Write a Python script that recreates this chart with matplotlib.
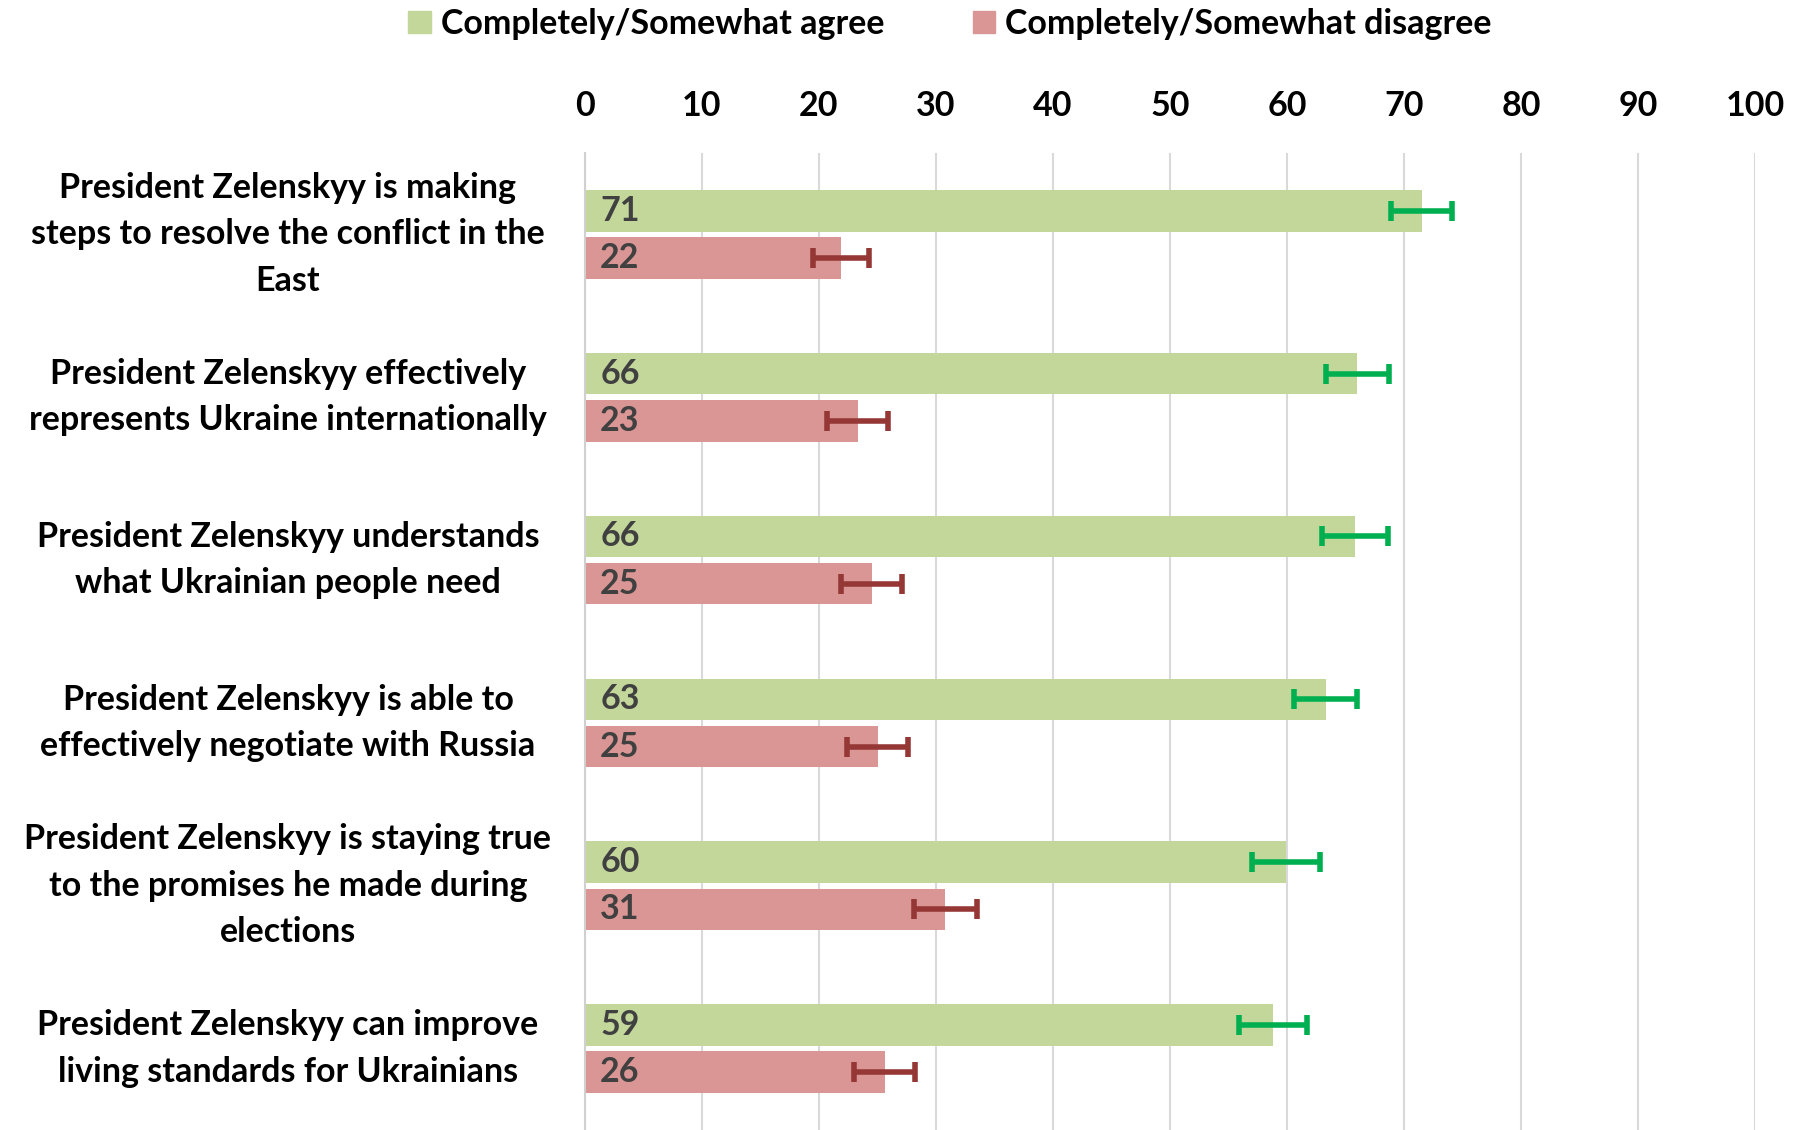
import matplotlib
matplotlib.use("Agg")
import matplotlib.pyplot as plt
import matplotlib.transforms as mtransforms
from matplotlib.patches import Patch
import numpy as np

categories = [
    "President Zelenskyy is making\nsteps to resolve the conflict in the\nEast",
    "President Zelenskyy effectively\nrepresents Ukraine internationally",
    "President Zelenskyy understands\nwhat Ukrainian people need",
    "President Zelenskyy is able to\neffectively negotiate with Russia",
    "President Zelenskyy is staying true\nto the promises he made during\nelections",
    "President Zelenskyy can improve\nliving standards for Ukrainians",
]
agree = [71.5, 66.0, 65.8, 63.3, 59.9, 58.8]
disagree = [21.9, 23.3, 24.5, 25.0, 30.8, 25.6]
agree_labels = ["71", "66", "66", "63", "60", "59"]
disagree_labels = ["22", "23", "25", "25", "31", "26"]
agree_err = [2.6, 2.7, 2.8, 2.7, 2.9, 2.9]
disagree_err = [2.4, 2.6, 2.6, 2.6, 2.7, 2.6]
ticks = [0, 10, 20, 30, 40, 50, 60, 70, 80, 90, 100]

FONT = "Lato"
plt.rcParams['font.family'] = [FONT, 'DejaVu Sans']

fig = plt.figure(figsize=(17.99, 11.30), dpi=100)
ax = fig.add_axes([585/1799, 0, 1170/1799, (1130-153)/1130])

C_AG = "#C4D79B"
C_DI = "#DA9694"
E_AG = "#00B050"
E_DI = "#953735"
FS = 24.5

y = np.arange(len(categories))
off = 0.145
h = 0.255

ax.barh(y - off, agree, height=h, color=C_AG, zorder=2)
ax.barh(y + off, disagree, height=h, color=C_DI, zorder=2)
ax.errorbar(agree, y - off, xerr=agree_err, fmt='none', ecolor=E_AG,
            elinewidth=4, capsize=7, capthick=4, zorder=3)
ax.errorbar(disagree, y + off, xerr=disagree_err, fmt='none', ecolor=E_DI,
            elinewidth=4, capsize=7, capthick=4, zorder=3)

for i in range(len(categories)):
    ax.text(1.3, y[i] - off, agree_labels[i], va='center', ha='left',
            fontsize=FS, fontweight='bold', color='#404040', zorder=4)
    ax.text(1.3, y[i] + off, disagree_labels[i], va='center', ha='left',
            fontsize=FS, fontweight='bold', color='#404040', zorder=4)

ax.set_xlim(0, 100)
ax.set_ylim(5.5, -0.5)
ax.set_xticks(ticks)
ax.xaxis.tick_top()
ax.tick_params(axis='x', length=0, pad=22, labelsize=FS)
for lab in ax.get_xticklabels():
    lab.set_fontweight('bold')
ax.set_yticks([])
ax.grid(axis='x', color='#D9D9D9', linewidth=1.5, zorder=0)
for s in ['top', 'right', 'bottom']:
    ax.spines[s].set_visible(False)
ax.spines['left'].set_color('#D0D0D0')
ax.spines['left'].set_linewidth(1.5)

trans = mtransforms.blended_transform_factory(fig.transFigure, ax.transData)
for i, c in enumerate(categories):
    ax.text(288/1799, y[i], c, transform=trans, ha='center', va='center',
            fontsize=FS, fontweight='bold', color='black', linespacing=1.55)

handles = [Patch(color=C_AG, label="Completely/Somewhat agree"),
           Patch(color=C_DI, label="Completely/Somewhat disagree")]
fig.legend(handles=handles, loc='center', bbox_to_anchor=(950/1799, 1 - 24/1130),
           ncol=2, frameon=False, prop={'size': FS, 'weight': 'bold'},
           handlelength=0.65, handleheight=0.65, handletextpad=0.3, columnspacing=2.6)

fig.savefig("out.png", dpi=100)
